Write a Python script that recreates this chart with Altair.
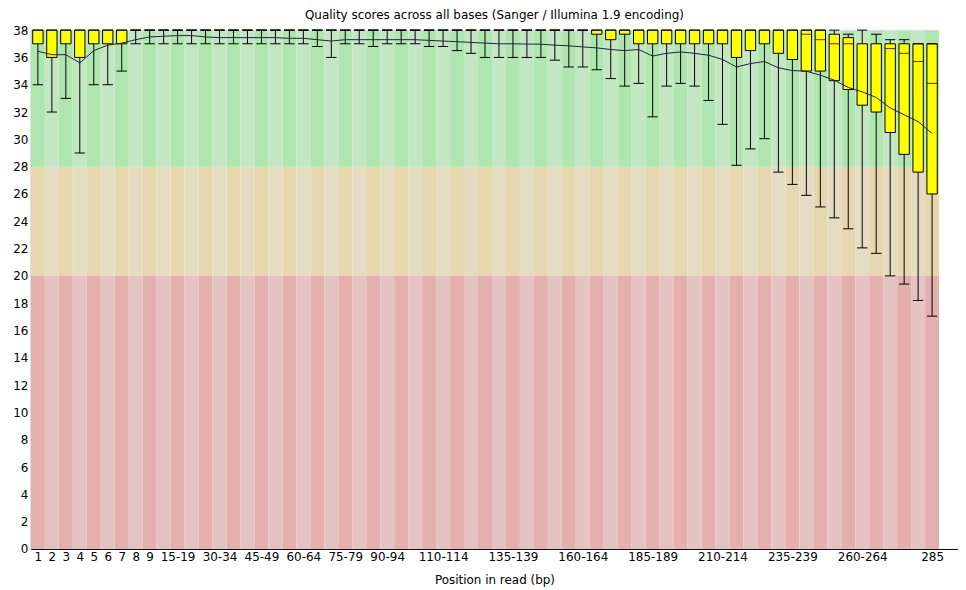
import altair as alt
import pandas as pd

positions = ["1", "2", "3", "4", "5", "6", "7", "8", "9",
             "10-14", "15-19", "20-24", "25-29", "30-34", "35-39", "40-44", "45-49", "50-54", "55-59",
             "60-64", "65-69", "70-74", "75-79", "80-84", "85-89", "90-94", "95-99", "100-104", "105-109",
             "110-114", "115-119", "120-124", "125-129", "130-134", "135-139", "140-144", "145-149", "150-154", "155-159",
             "160-164", "165-169", "170-174", "175-179", "180-184", "185-189", "190-194", "195-199", "200-204", "205-209",
             "210-214", "215-219", "220-224", "225-229", "230-234", "235-239", "240-244", "245-249", "250-254", "255-259",
             "260-264", "265-269", "270-274", "275-279", "280-284", "285"]

shown_labels = ["1", "2", "3", "4", "5", "6", "7", "8", "9", "15-19", "30-34", "45-49", "60-64",
                "75-79", "90-94", "110-114", "135-139", "160-164", "185-189", "210-214",
                "235-239", "260-264", "285"]

# 10th percentile (lower whisker)
lower_whisker = [34, 32, 33, 29, 34, 34, 35, 37, 37,
                 37, 37, 37, 37, 37, 37, 37, 37, 37, 37,
                 37, 36.8, 36, 37, 37, 36.8, 37, 37, 37, 36.8,
                 36.8, 36.5, 36.3, 36, 36, 36, 36, 36, 35.8, 35.3,
                 35.3, 35.1, 34.45, 33.9, 34.1, 31.65, 33.9, 34.1, 33.9, 32.85,
                 31.1, 28.1, 29.3, 30.05, 27.6, 26.7, 25.9, 25.05, 24.25, 23.45,
                 22.05, 21.65, 20.0, 19.4, 18.2, 17.05]

lower_quartile = [37, 36, 37, 36, 37, 37, 37, 38, 38,
                  38, 38, 38, 38, 38, 38, 38, 38, 38, 38,
                  38, 38, 38, 38, 38, 38, 38, 38, 38, 38,
                  38, 38, 38, 38, 38, 38, 38, 38, 38, 38,
                  38, 37.7, 37.3, 37.7, 37, 37, 37, 37, 37, 37,
                  37, 36, 36.5, 37, 36.3, 35.85, 35.0, 35.0, 34.3, 33.65,
                  32.5, 32.0, 30.5, 28.9, 27.6, 26.0]

median = [38, 38, 38, 38, 38, 38, 38, 38, 38,
          38, 38, 38, 38, 38, 38, 38, 38, 38, 38,
          38, 38, 38, 38, 38, 38, 38, 38, 38, 38,
          38, 38, 38, 38, 38, 38, 38, 38, 38, 38,
          38, 38, 38, 38, 38, 38, 38, 38, 38, 38,
          38, 38, 38, 38, 38, 38, 37.7, 37.3, 37.0, 37.0,
          37, 37, 36.65, 36.3, 35.7, 34.1]

upper_quartile = [38, 38, 38, 38, 38, 38, 38, 38, 38,
                  38, 38, 38, 38, 38, 38, 38, 38, 38, 38,
                  38, 38, 38, 38, 38, 38, 38, 38, 38, 38,
                  38, 38, 38, 38, 38, 38, 38, 38, 38, 38,
                  38, 38, 38, 38, 38, 38, 38, 38, 38, 38,
                  38, 38, 38, 38, 38, 38, 38, 38, 37.7, 37.45,
                  37, 37, 37, 37, 37, 37]

# 90th percentile (upper whisker)
upper_whisker = [38, 38, 38, 38, 38, 38, 38, 38, 38,
                 38, 38, 38, 38, 38, 38, 38, 38, 38, 38,
                 38, 38, 38, 38, 38, 38, 38, 38, 38, 38,
                 38, 38, 38, 38, 38, 38, 38, 38, 38, 38,
                 38, 38, 38, 38, 38, 38, 38, 38, 38, 38,
                 38, 38, 38, 38, 38, 38, 38, 38, 38, 37.7,
                 38, 37.7, 37.3, 37.3, 37, 37]

mean_quality = [36.45, 36.2, 36.2, 35.6, 36.5, 36.9, 37.05, 37.3, 37.5,
                37.55, 37.6, 37.6, 37.5, 37.45, 37.45, 37.45, 37.45, 37.45, 37.4,
                37.4, 37.3, 37.2, 37.3, 37.3, 37.3, 37.3, 37.3, 37.3, 37.25,
                37.2, 37.15, 37.1, 37.05, 37.0, 37.0, 36.98, 36.97, 36.9, 36.85,
                36.77, 36.7, 36.58, 36.5, 36.58, 36.1, 36.3, 36.4, 36.3, 36.16,
                35.85, 35.3, 35.55, 35.7, 35.24, 35.04, 34.99, 34.7, 34.33, 33.8,
                33.48, 33.07, 32.3, 31.8, 31.3, 30.43]

zone_low = [0, 20, 28]
zone_high = [20, 28, 38]
zone_dark = ["#e6afaf", "#e6d7af", "#afe6af"]
zone_light = ["#e6c3c3", "#e6dcc3", "#c3e6c3"]

n = len(positions)
df = pd.DataFrame({
    "idx": list(range(n)),
    "pos": positions,
    "lw": lower_whisker,
    "q1": lower_quartile,
    "med": median,
    "q3": upper_quartile,
    "uw": upper_whisker,
    "mean": mean_quality,
})

bg_rows = []
for i in range(n):
    for lo, hi, dk, lt in zip(zone_low, zone_high, zone_dark, zone_light):
        bg_rows.append({"idx": i, "lo": lo, "hi": hi, "color": dk if i % 2 == 0 else lt})
bg_df = pd.DataFrame(bg_rows)

PLOT_W = 931
COL_PX = 912 / n
x_max = PLOT_W / COL_PX

xs = alt.Scale(domain=[0, x_max], nice=False, zero=False)
ys = alt.Scale(domain=[0, 38], nice=False, zero=True)

label_arr = "[" + ",".join("'" + p + "'" for p in positions) + "]"
x_axis = alt.Axis(values=[positions.index(l) + 0.5 for l in shown_labels],
                  labelExpr=label_arr + "[floor(datum.value)]",
                  ticks=False, grid=False, labelPadding=3, labelFontSize=12,
                  title="Position in read (bp)", titleFontSize=12, titleFontWeight="normal",
                  titlePadding=12, labelFlush=False, labelOverlap=False, labelBound=False)
y_axis = alt.Axis(values=list(range(0, 39, 2)), ticks=False, grid=False, labelPadding=3,
                  labelFontSize=12, title="", minExtent=23, maxExtent=23)


def X(field):
    return alt.X(field, scale=xs, axis=x_axis)


def Y(field):
    return alt.Y(field, scale=ys, axis=y_axis)


bg = alt.Chart(bg_df).transform_calculate(x1="datum.idx + 1").mark_rect().encode(
    x=X("idx:Q"), x2="x1:Q", y=Y("lo:Q"), y2="hi:Q",
    color=alt.Color("color:N", scale=None),
)

base = alt.Chart(df).transform_calculate(
    xc="datum.idx + 0.5", xl="datum.idx + 0.13", xr="datum.idx + 0.87"
)

whisker = base.mark_rule(color="black", strokeWidth=1).encode(
    x=X("xc:Q"), y=Y("lw:Q"), y2="uw:Q")

box = base.mark_rect(fill="#ffff00", stroke="black", strokeWidth=1).encode(
    x=X("xl:Q"), x2="xr:Q", y=Y("q1:Q"), y2="q3:Q")

med = base.transform_filter("datum.med < datum.q3 && datum.med > datum.q1").mark_rule(
    color="#8a1010", strokeWidth=1).encode(x=X("xl:Q"), x2="xr:Q", y=Y("med:Q"))

cap_low = base.mark_rule(color="black", strokeWidth=1).encode(
    x=X("xl:Q"), x2="xr:Q", y=Y("lw:Q"))
cap_high = base.mark_rule(color="black", strokeWidth=1).encode(
    x=X("xl:Q"), x2="xr:Q", y=Y("uw:Q"))

mean_line = base.mark_line(color="#202040", strokeWidth=1).encode(
    x=X("xc:Q"), y=Y("mean:Q"))

chart = alt.layer(bg, whisker, box, med, cap_low, cap_high, mean_line).properties(
    width=PLOT_W, height=521, padding=0,
    title=alt.TitleParams("Quality scores across all bases (Sanger / Illumina 1.9 encoding)",
                          fontSize=12, fontWeight="normal", font="DejaVu Sans",
                          anchor="middle", offset=2, color="black"),
).configure_axis(
    labelFont="DejaVu Sans", titleFont="DejaVu Sans", labelColor="black",
    titleColor="black", domainColor="black", domainWidth=1
).configure_view(strokeWidth=0)

chart.save("out.html", embed_options={"renderer": "svg", "actions": False})
